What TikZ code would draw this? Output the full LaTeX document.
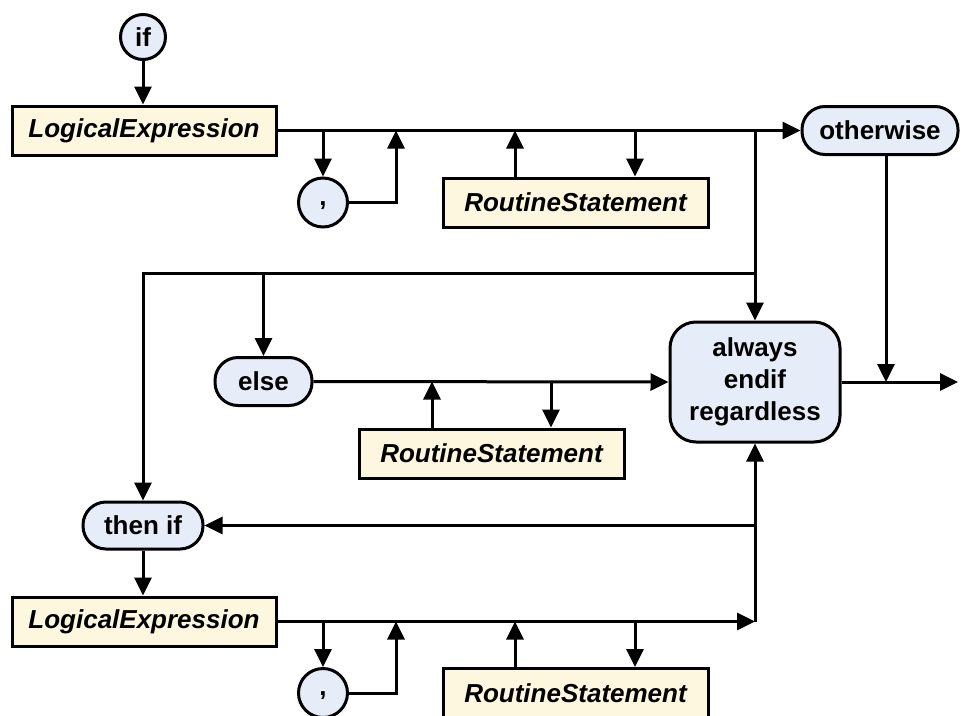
\documentclass[tikz,border=0pt]{standalone}
\usepackage{fontspec}
\setmainfont{Liberation Sans}
\usetikzlibrary{arrows.meta}
\definecolor{ntfill}{HTML}{FDF7E0}
\definecolor{tfill}{HTML}{E6ECF8}
\begin{document}
\begin{tikzpicture}[x=1pt,y=-1pt,line width=3pt,
  conn/.style={-{Triangle[length=18pt,width=17pt]}},
  ntbox/.style={draw,fill=ntfill,rectangle,inner sep=0pt,minimum width=264pt,minimum height=49pt,
    font=\fontsize{26}{32}\selectfont\bfseries\itshape},
  tbox/.style={draw,fill=tfill,rounded corners=23pt,inner sep=0pt,minimum height=48pt,
    font=\fontsize{26}{32}\selectfont\bfseries},
  tcirc/.style={draw,fill=tfill,circle,inner sep=0pt,minimum size=49pt,
    font=\fontsize{26}{32}\selectfont\bfseries},
  commacirc/.style={tcirc,text height=7pt,text depth=2pt}]
\useasboundingbox (0,0) rectangle (961,715);

% nodes
\node[tcirc,minimum size=45pt] (if) at (143,37) {if};
\node[ntbox] (le1) at (144,130.5) {LogicalExpression};
\node[commacirc] (comma1) at (323,202.5) {,};
\node[ntbox,minimum width=265pt] (rs1) at (575.5,202.5) {RoutineStatement};
\node[tbox,minimum width=156pt] (otherwise) at (880,130.5) {otherwise};
\node[tbox,minimum width=97pt] (else) at (263.5,381.5) {else};
\node[ntbox,minimum width=265pt] (rs2) at (491.5,453.5) {RoutineStatement};
\node[tbox,rounded corners=26pt,minimum width=170pt,minimum height=120pt,align=center] (always) at (755,382) {always\\endif\\regardless};
\node[tbox,minimum width=120pt,minimum height=47pt] (thenif) at (143,525.5) {then if};
\node[ntbox] (le2) at (144,621.5) {LogicalExpression};
\node[commacirc] (comma2) at (323,693) {,};
\node[ntbox,minimum width=265pt] (rs3) at (575.5,693) {RoutineStatement};

% junction points
\coordinate (a1) at (396,130.5);
\coordinate (a2) at (515,130.5);
\coordinate (a3) at (635,130.5);
\coordinate (a4) at (755,130.5);
\coordinate (b1) at (755,273);
\coordinate (e1) at (432,381.5);
\coordinate (e2) at (551,381.5);
\coordinate (ow) at (886,130.5);
\coordinate (exit) at (958,382);
\coordinate (t1) at (755,525.5);
\coordinate (c1) at (396,621.5);
\coordinate (c2) at (515,621.5);
\coordinate (c3) at (635,621.5);
\coordinate (c4) at (755,621.5);

% upper branch
\draw[conn] (if) -- (if |- le1.north);
\draw[conn] (le1.east) -- (otherwise.west);
\draw[conn] (comma1 |- le1.east) -- (comma1.north);
\draw[conn] (comma1.east) -| (a1);
\draw[conn] (a2 |- rs1.north) -- (a2);
\draw[conn] (a3) -- (a3 |- rs1.north);
\draw[conn] (a4) -- (always.north);
\draw[conn] (b1) -| (thenif.north);
\draw[conn] (else |- b1) -- (else.north);

% else branch
\draw[conn] (else.east) -- (always.west);
\draw[conn] (e1 |- rs2.north) -- (e1);
\draw[conn] (e2) -- (e2 |- rs2.north);

% exit
\draw[conn] (always.east) -- (exit);
\draw[conn] (ow |- otherwise.south) -- (ow |- exit);

% lower branch
\draw[conn] (thenif) -- (thenif |- le2.north);
\draw[conn] (le2.east) -- (c4);
\draw[conn] (c4) -- (always.south);
\draw[conn] (t1) -- (thenif.east);
\draw[conn] (comma2 |- le2.east) -- (comma2.north);
\draw[conn] (comma2.east) -| (c1);
\draw[conn] (c2 |- rs3.north) -- (c2);
\draw[conn] (c3) -- (c3 |- rs3.north);
\end{tikzpicture}
\end{document}
